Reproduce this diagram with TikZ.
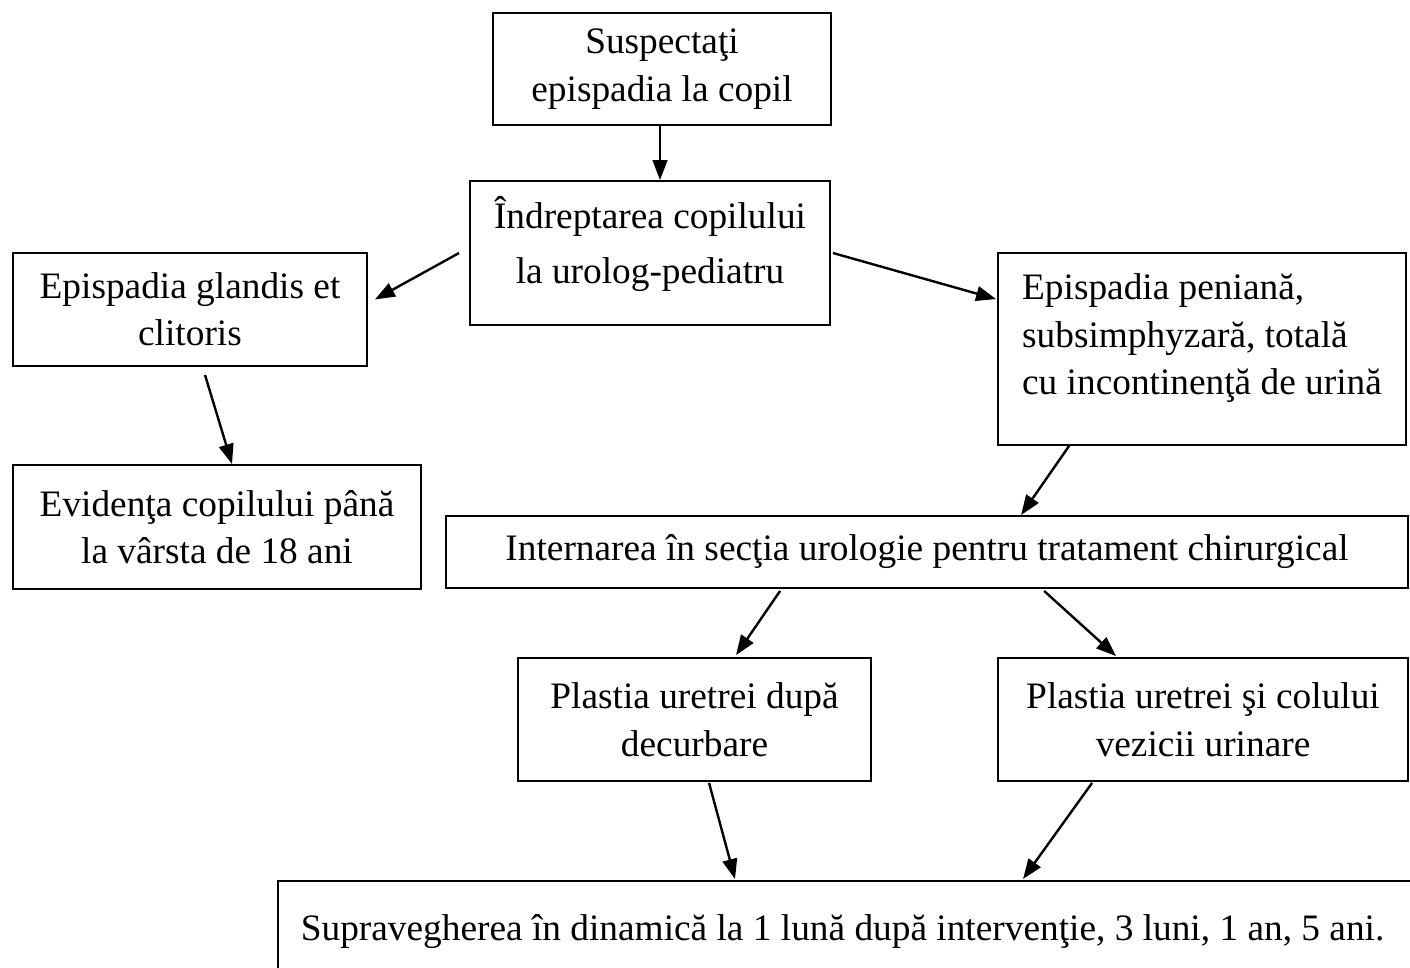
\documentclass[tikz,border=0pt]{standalone}
\usepackage{fontspec}
\setmainfont{Liberation Serif}
\usetikzlibrary{arrows.meta,calc}
\tikzstyle{block} = [rectangle, draw, line width=0.7pt, align=center,
    inner sep=3pt, font=\fontsize{14}{17.8}\selectfont]
\tikzstyle{line} = [draw, line width=0.9pt, -{Triangle[length=7.5pt,width=5.5pt]}]

\begin{document}
\begin{tikzpicture}[x=0.375pt, y=-0.375pt]
	\useasboundingbox (0,0) rectangle (1410,968);

		\node [block, minimum width=126.75pt, minimum height=42pt] (suspect) at (662,69) {Suspecta\c{t}i\\ epispadia la copil};
		\node [block, minimum width=135pt, minimum height=54pt, text depth=10pt,
			font=\fontsize{14}{20.6}\selectfont] (urolog) at (650,253) {Îndreptarea copilului\\ la urolog-pediatru};

		\node [block, minimum width=132.75pt, minimum height=42.4pt] (glandis) at (190,309.5) {Epispadia glandis et\\ clitoris};
		\node [block, minimum width=153pt, minimum height=46.5pt] (evidenta) at (217,527) {Eviden\c{t}a copilului până\\ la vârsta de 18 ani};

		\node [block, align=left, minimum width=153pt, minimum height=72pt, text depth=11pt] (peniana) at (1202,349) {Epispadia peniană,\\ subsimphyzară, totală\\ cu incontinen\c{t}ă de urină};

		\node [block, minimum width=360.75pt, minimum height=27pt] (internare) at (927,552) {Internarea în sec\c{t}ia urologie pentru tratament chirurgical};

		\node [block, minimum width=132.4pt, minimum height=46.1pt] (decurbare) at (694.5,719.5) {Plastia uretrei după\\ decurbare};
		\node [block, minimum width=153.75pt, minimum height=46.1pt] (vezica) at (1203,719.5) {Plastia uretrei \c{s}i colului\\ vezicii urinare};

		\node [block, anchor=north west, align=flush left, inner xsep=8.6pt, inner ysep=10.5pt,
			text width=440pt, text height=12pt, text depth=60pt] (supraveg) at (277,880) {Supravegherea în dinamică la 1 lună după interven\c{t}ie, 3 luni, 1 an, 5 ani.};

		\path [line] (suspect.south -| 660,0) -- (urolog.north -| 660,0);

		\path [line] ($(urolog.west)+(-10,0)$) -- ($(glandis.east)+(7,-10)$);
		\path [line] ($(urolog.east)+(2,0)$) -- ($(peniana.north west)+(-1,47)$);

		\path [line] ($(glandis.south)+(15,8)$) -- ($(evidenta.north)+(15,0)$);
		\path [line] ($(peniana.south west)+(72,0)$) -- ($(internare.north west)+(576,0)$);

		\path [line] ($(internare.south west)+(335,2)$) -- ($(decurbare.north west)+(219,-2)$);
		\path [line] ($(internare.south west)+(599,2)$) -- ($(vezica.north west)+(119,-1)$);

		\path [line] ($(decurbare.south west)+(192,1)$) -- ($(supraveg.north west)+(458,-1)$);
		\path [line] ($(vezica.south west)+(95,1)$) -- ($(supraveg.north west)+(746,-1)$);
	\end{tikzpicture}
\end{document}
